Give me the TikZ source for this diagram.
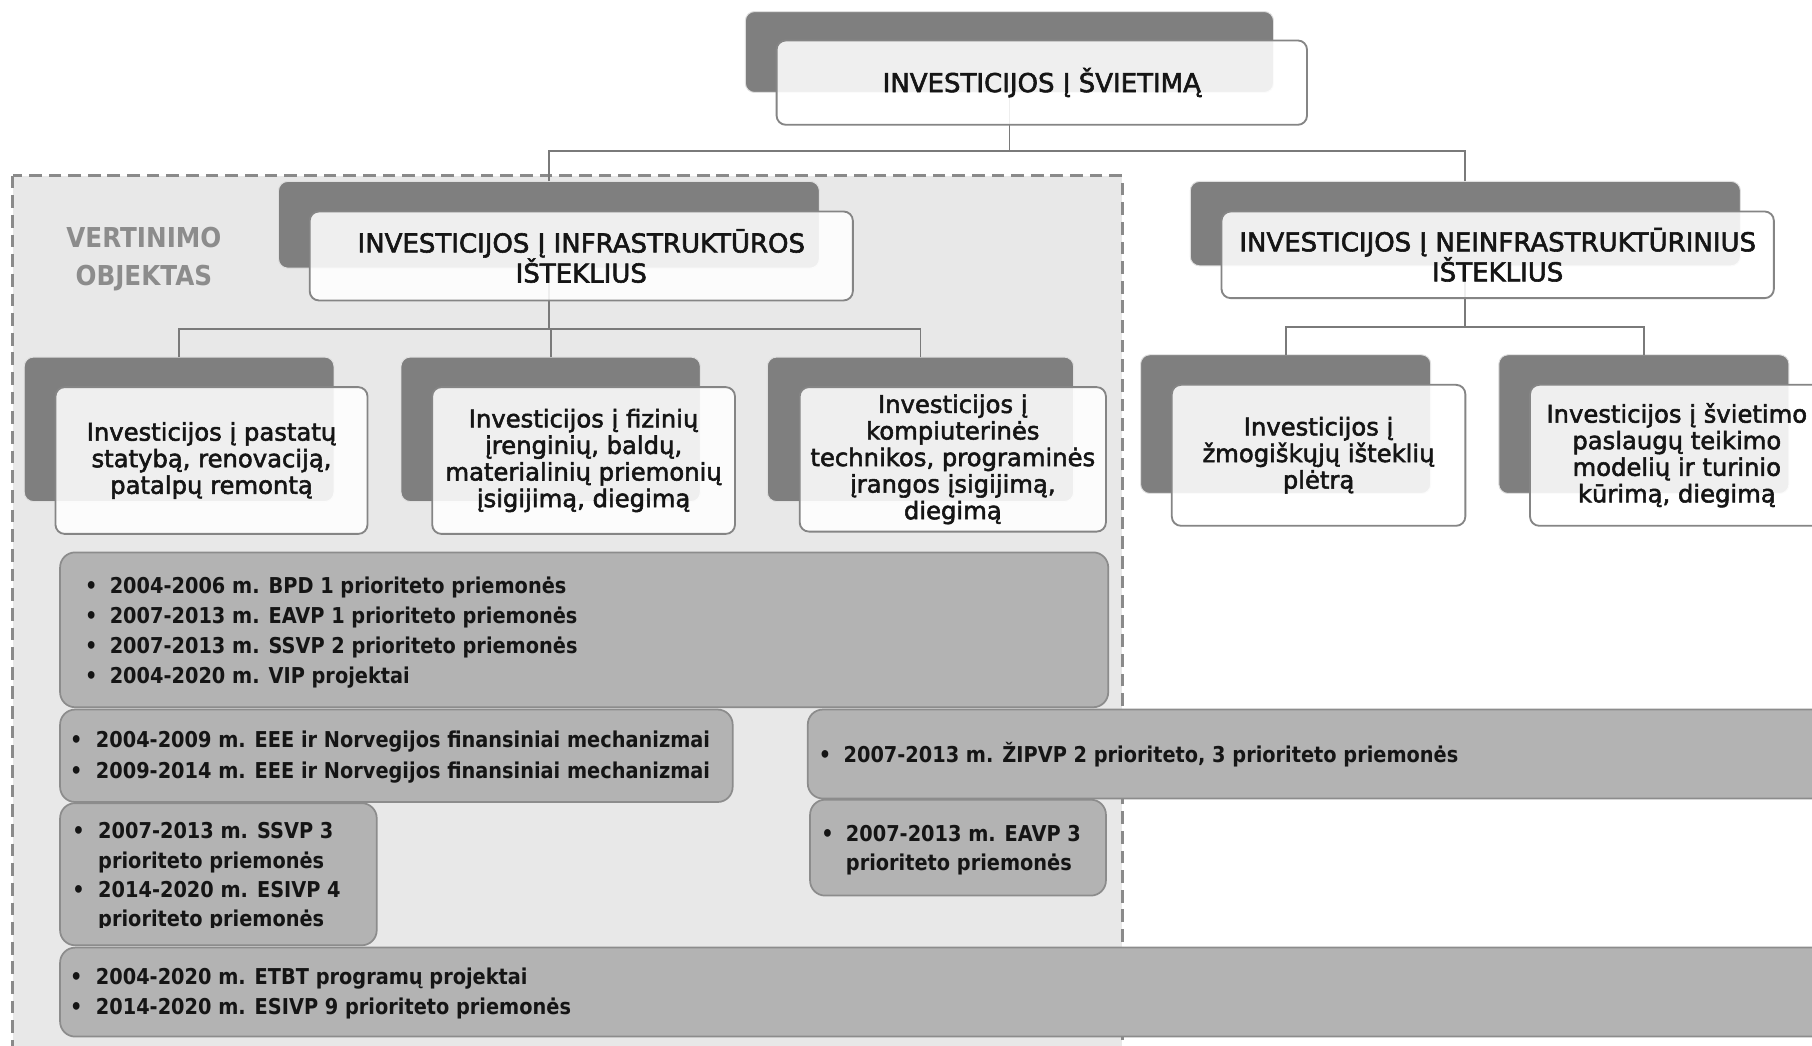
\documentclass[tikz,border=0pt]{standalone}
\usepackage{fontspec}
\setmainfont{DejaVu Sans}
\newfontfamily\boxf{DejaVu Sans}[FakeBold=2.2]
\newfontfamily\titf{DejaVu Sans}[FakeBold=2.2]
\newfontfamily\listf{DejaVu Sans}[FakeStretch=0.885]
\newfontfamily\vertf{DejaVu Sans}[FakeStretch=0.9]
\definecolor{dkg}{HTML}{7F7F7F}
\definecolor{brd}{HTML}{858585}
\definecolor{cn}{HTML}{7A7A7A}
\definecolor{lg}{HTML}{B3B3B3}
\definecolor{lbrd}{HTML}{8C8C8C}
\definecolor{reg}{HTML}{E8E8E8}
\definecolor{regb}{HTML}{8A8A8A}
\definecolor{txt}{HTML}{151515}
\definecolor{vt}{HTML}{8C8C8C}
\tikzset{
  dark/.style={rectangle, rounded corners=8pt, fill=dkg, draw=white!75!dkg, line width=0.8pt, inner sep=0pt, outer sep=0pt},
  front/.style={rectangle, rounded corners=8pt, fill=white, fill opacity=0.88, text opacity=1, draw=brd, line width=1.6pt, inner sep=0pt, outer sep=0pt, align=center, text=txt, font=\boxf\fontsize{21}{23}\selectfont},
  ttl/.style={front, font=\titf\fontsize{22.5}{26}\selectfont},
  conn/.style={draw=cn, line width=1.6pt},
  lbox/.style={rectangle, rounded corners=13pt, fill=lg, draw=lbrd, line width=1.5pt, inner sep=0pt, outer sep=0pt},
  lt/.style={inner sep=0pt, outer sep=0pt, text=txt, font=\listf\bfseries\fontsize{18.9}{26}\selectfont},
}
\newcommand\lline[5]{%
  \node[lt, anchor=base] (#1b) at (#2,#4) {•};
  \node[lt, anchor=base west] (#1) at (#3,#4) {#5};}
\newcommand\contline[4]{\node[lt, anchor=base west] (#1) at (#2,#3) {#4};}
\begin{document}
\begin{tikzpicture}[x=1pt,y=-1pt]
\useasboundingbox (0,0) rectangle (1568,905);
\clip (0,0) rectangle (1568,905);
\fill[white] (0,0) rectangle (1568,905);
% evaluation region
\draw[fill=reg, draw=regb, line width=2.5pt, dash pattern=on 11pt off 6pt] (11,152) rectangle (971,930);
% dark back boxes
\node[dark, minimum width=457, minimum height=70] (top-d) at (873.5,45) {};
\node[dark, minimum width=468, minimum height=75] (inf-d) at (475,194.5) {};
\node[dark, minimum width=476, minimum height=73] (nei-d) at (1268,193.5) {};
\node[dark, minimum width=268, minimum height=125] (c1-d) at (155,371.5) {};
\node[dark, minimum width=259, minimum height=125] (c2-d) at (476.5,371.5) {};
\node[dark, minimum width=265, minimum height=125] (c3-d) at (796.5,371.5) {};
\node[dark, minimum width=251, minimum height=120] (c4-d) at (1112.5,367) {};
\node[dark, minimum width=251, minimum height=120] (c5-d) at (1422.5,367) {};
% connectors
\coordinate (j0) at (873.5,131);
\coordinate (j1) at (475,285);
\coordinate (j2) at (1268,283);
\draw[conn] (top-d.south) -- (j0);
\draw[conn] (inf-d.north) |- (j0);
\draw[conn] (nei-d.north) |- (j0);
\draw[conn] (inf-d.south) -- (j1);
\draw[conn] (c1-d.north) |- (j1);
\draw[conn] (c2-d.north) |- (j1);
\draw[conn] (c3-d.north) |- (j1);
\draw[conn] (nei-d.south) -- (j2);
\draw[conn] (c4-d.north) |- (j2);
\draw[conn] (c5-d.north) |- (j2);
% front boxes
\node[ttl, minimum width=459, minimum height=73] (top) at (901.5,71.5) {INVESTICIJOS Į ŠVIETIMĄ};
\node[ttl, minimum width=470, minimum height=77] (inf) at (503,221.5) {INVESTICIJOS Į INFRASTRUKTŪROS\\IŠTEKLIUS};
\node[ttl, minimum width=478, minimum height=75] (nei) at (1296,220.5) {INVESTICIJOS Į NEINFRASTRUKTŪRINIUS\\IŠTEKLIUS};
\node[front, minimum width=270, minimum height=127] (c1) at (183,398.5) {Investicijos į pastatų\\statybą, renovaciją,\\patalpų remontą};
\node[front, minimum width=262, minimum height=127] (c2) at (505,398.5) {Investicijos į fizinių\\įrenginių, baldų,\\materialinių priemonių\\įsigijimą, diegimą};
\node[front, minimum width=265, minimum height=125] (c3) at (824.5,397.5) {Investicijos į\\kompiuterinės\\technikos, programinės\\įrangos įsigijimą,\\diegimą};
\node[front, minimum width=254, minimum height=122] (c4) at (1141,394) {Investicijos į\\žmogiškųjų išteklių\\plėtrą};
\node[front, minimum width=254, minimum height=122] (c5) at (1451,394) {Investicijos į švietimo\\paslaugų teikimo\\modelių ir turinio\\kūrimą, diegimą};
% label
\node[align=center, text=vt, inner sep=0pt, font=\vertf\bfseries\fontsize{23.7}{33}\selectfont] (vert) at (124.5,224.5) {VERTINIMO\\OBJEKTAS};
% list boxes
\node[lbox, minimum width=907, minimum height=134] (A) at (505.5,545) {};
\lline{a1}{79}{95}{513.4}{2004-2006 m. BPD 1 prioriteto priemonės}
\lline{a2}{79}{95}{539.4}{2007-2013 m. EAVP 1 prioriteto priemonės}
\lline{a3}{79}{95}{565.4}{2007-2013 m. SSVP 2 prioriteto priemonės}
\lline{a4}{79}{95}{591.4}{2004-2020 m. VIP projektai}
\node[lbox, minimum width=582, minimum height=80] (B) at (343,654) {};
\lline{b1}{66}{83}{647}{2004-2009 m. EEE ir Norvegijos finansiniai mechanizmai}
\lline{b2}{66}{83}{674}{2009-2014 m. EEE ir Norvegijos finansiniai mechanizmai}
\node[lbox, minimum width=891, minimum height=77] (C) at (1144.5,652.5) {};
\lline{c1l}{714}{730}{660}{2007-2013 m. ŽIPVP 2 prioriteto, 3 prioriteto priemonės}
\node[lbox, minimum width=274, minimum height=123] (D) at (189,756.5) {};
\begin{scope}
\clip (52,695) rectangle (326,803);
\lline{d1}{68}{85}{726}{2007-2013 m. SSVP 3}
\contline{d2}{85}{751.5}{prioriteto priemonės}
\lline{d3}{68}{85}{777}{2014-2020 m. ESIVP 4}
\contline{d4}{85}{802}{prioriteto priemonės}
\end{scope}
\node[lbox, minimum width=256, minimum height=83] (E) at (829,733.5) {};
\lline{e1}{716}{732}{728}{2007-2013 m. EAVP 3}
\contline{e2}{732}{753}{prioriteto priemonės}
\node[lbox, minimum width=1538, minimum height=77] (F) at (821,858.5) {};
\lline{f1}{66}{83}{852}{2004-2020 m. ETBT programų projektai}
\lline{f2}{66}{83}{878}{2014-2020 m. ESIVP 9 prioriteto priemonės}
\end{tikzpicture}
\end{document}
